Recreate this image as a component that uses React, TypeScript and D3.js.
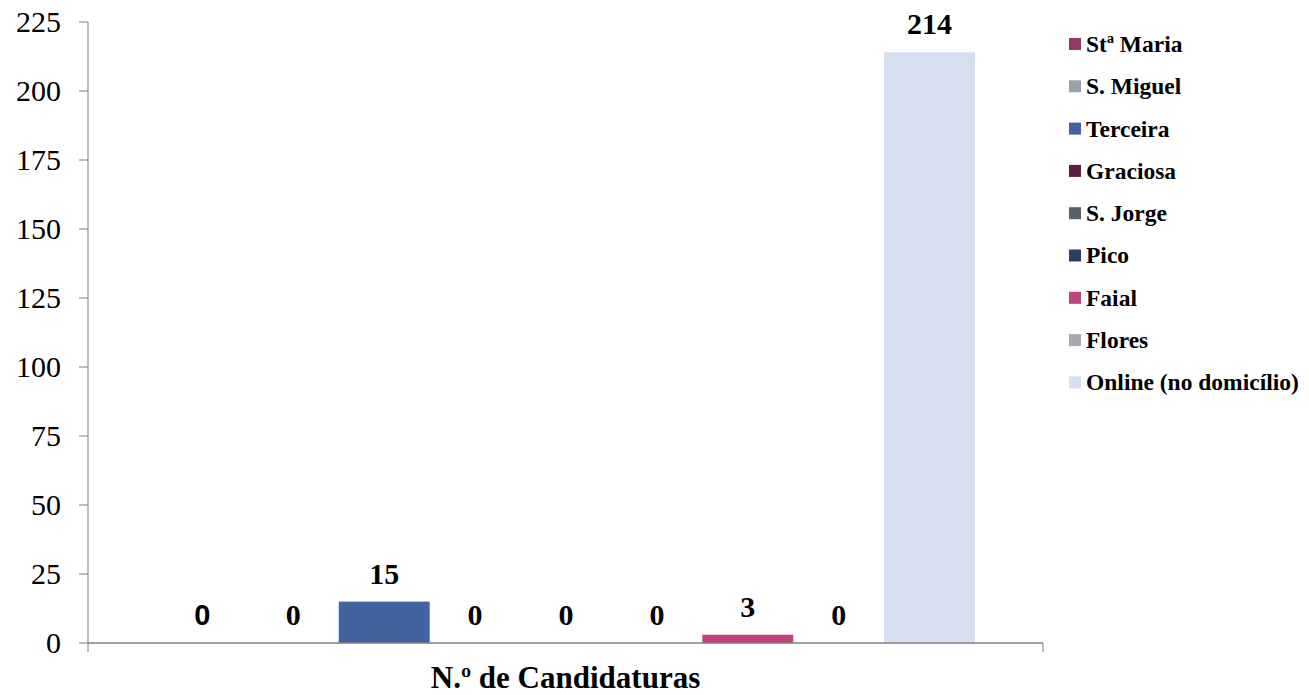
import React from "react";
import * as d3 from "d3";

const categories = ["Stª Maria", "S. Miguel", "Terceira", "Graciosa", "S. Jorge", "Pico", "Faial", "Flores", "Online (no domicílio)"];
const values = [0, 0, 15, 0, 0, 0, 3, 0, 214];
const colors = ["#953863", "#99a0ab", "#4163a0", "#5a1e3e", "#5b6168", "#2b3e66", "#c0437f", "#a6aab0", "#d5dfed"];
const yTicks = [0, 25, 50, 75, 100, 125, 150, 175, 200, 225];
const axisTitle = "N.º de Candidaturas";

const W = 1309;
const H = 695;
const serif = "Liberation Serif, Tinos, DejaVu Serif, serif";
const sans = "Liberation Sans, Arimo, Arial, sans-serif";

export default function App() {
  const plotLeft = 88;
  const plotRight = 1043;
  const y = d3.scaleLinear().domain([0, 225]).range([643, 22]);
  const x = d3.scaleBand<string>().domain(categories).range([157, 975]).paddingInner(0).paddingOuter(0);
  const axisColor = "#7f7f7f";

  return (
    <svg width={W} height={H} style={{ position: "absolute", left: 0, top: 0, background: "#fff" }}>
      {/* bars */}
      {categories.map((c, i) => (
        <rect
          key={c}
          x={x(c)!}
          y={y(values[i])}
          width={x.bandwidth()}
          height={y(0) - y(values[i])}
          fill={colors[i]}
        />
      ))}
      {/* y axis */}
      <line x1={plotLeft} x2={plotLeft} y1={y(225)} y2={y(0) + 9} stroke={axisColor} strokeWidth={1} />
      {yTicks.map((t) => (
        <g key={t}>
          <line x1={plotLeft - 9} x2={plotLeft} y1={y(t)} y2={y(t)} stroke={axisColor} strokeWidth={1} />
          <text
            x={61}
            y={y(t)}
            dy="0.34em"
            textAnchor="end"
            style={{ fontFamily: serif, fontSize: "30px" }}
            fill="#000"
          >
            {t}
          </text>
        </g>
      ))}
      {/* x axis */}
      <line x1={plotLeft} x2={plotRight} y1={y(0)} y2={y(0)} stroke={axisColor} strokeWidth={1.5} />
      <line x1={plotRight} x2={plotRight} y1={y(0)} y2={y(0) + 9} stroke={axisColor} strokeWidth={1} />
      {/* value labels */}
      {categories.map((c, i) => (
        <text
          key={"l" + c}
          x={x(c)! + x.bandwidth() / 2}
          y={y(values[i]) - 18}
          textAnchor="middle"
          style={{ fontFamily: i === 0 ? sans : serif, fontWeight: "bold", fontSize: i === 0 ? "29px" : "30px" }}
          fill="#000"
        >
          {values[i]}
        </text>
      ))}
      {/* axis title */}
      <text
        x={(plotLeft + plotRight) / 2}
        y={688}
        textAnchor="middle"
        style={{ fontFamily: serif, fontWeight: "bold", fontSize: "31px" }}
        fill="#000"
      >
        {axisTitle}
      </text>
      {/* legend */}
      {categories.map((c, i) => {
        const cy = 44 + i * 42.3;
        return (
          <g key={"lg" + c}>
            <rect x={1069} y={cy - 6} width={12} height={12} fill={colors[i]} />
            <text
              x={1086}
              y={cy}
              dy="0.34em"
              style={{ fontFamily: serif, fontWeight: "bold", fontSize: "23.5px" }}
              fill="#000"
            >
              {c}
            </text>
          </g>
        );
      })}
    </svg>
  );
}
